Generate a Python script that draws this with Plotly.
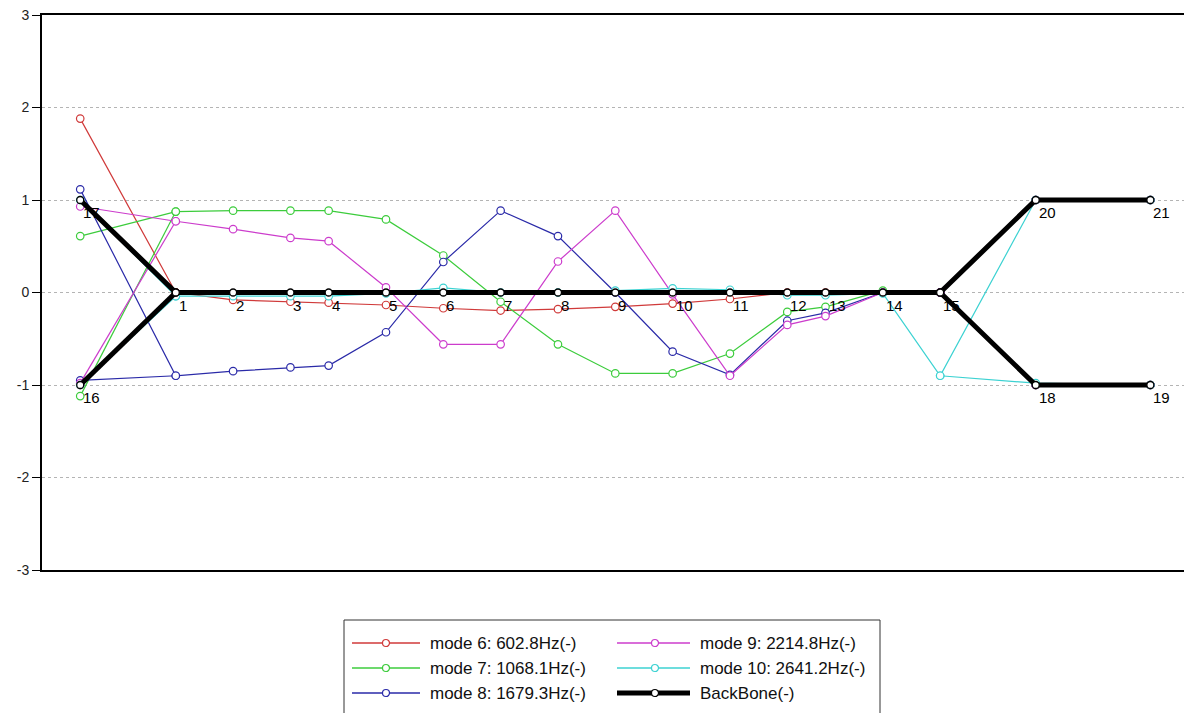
import plotly.graph_objects as go

# ---- model geometry -------------------------------------------------------
node_ids = [17, 16, 1, 2, 3, 4, 5, 6, 7, 8, 9, 10, 11, 12, 13, 14, 15, 18, 19, 20, 21]
node_x = [0, 0, 2.5, 4, 5.5, 6.5, 8, 9.5, 11, 12.5, 14, 15.5, 17, 18.5, 19.5, 21, 22.5,
          25, 28, 25, 28]
backbone_y = [1, -1, 0, 0, 0, 0, 0, 0, 0, 0, 0, 0, 0, 0, 0, 0, 0, -1, -1, 1, 1]

# element chains (by node id)
chains = [
    [17, 1, 2, 3, 4, 5, 6, 7, 8, 9, 10, 11, 12, 13, 14, 15, 20, 21],
    [16, 1],
    [15, 18, 19],
]

# ---- mode shapes (value per node, same order as node_ids) ----------------
mode6 = [1.88, -1.0, 0.0, -0.08, -0.10, -0.11, -0.135, -0.17, -0.195, -0.18, -0.155,
         -0.12, -0.07, 0.0, 0.0, 0.0, 0.0, -1.0, -1.0, 1.0, 1.0]
mode7 = [0.61, -1.12, 0.875, 0.885, 0.885, 0.885, 0.79, 0.40, -0.10, -0.56, -0.875,
         -0.875, -0.66, -0.21, -0.155, 0.02, 0.0, -1.0, -1.0, 1.0, 1.0]
mode8 = [1.115, -0.95, -0.90, -0.85, -0.81, -0.79, -0.43, 0.33, 0.885, 0.61, 0.0,
         -0.64, -0.89, -0.305, -0.22, 0.0, 0.0, -1.0, -1.0, 1.0, 1.0]
mode9 = [0.93, -0.98, 0.77, 0.685, 0.59, 0.555, 0.055, -0.56, -0.56, 0.335, 0.885,
         -0.02, -0.90, -0.35, -0.255, 0.0, 0.0, -1.0, -1.0, 1.0, 1.0]
mode10 = [1.0, -1.0, -0.04, -0.04, -0.04, -0.04, -0.01, 0.05, 0.0, 0.0, 0.02,
          0.045, 0.03, -0.03, -0.03, -0.01, -0.9, -0.98, -1.0, 1.0, 1.0]

mode_values = [mode6, mode7, mode8, mode9, mode10]
mode_names = ["mode 6: 602.8Hz(-)", "mode 7: 1068.1Hz(-)", "mode 8: 1679.3Hz(-)",
              "mode 9: 2214.8Hz(-)", "mode 10: 2641.2Hz(-)"]
mode_colors = ["#d03a3a", "#3ccc3c", "#2a2aa8", "#cc3ccc", "#3cd2d2"]
backbone_name = "BackBone(-)"

y_ticks = [-3, -2, -1, 0, 1, 2, 3]

FONT = "Liberation Sans, Arial, sans-serif"
W, H = 1186, 713
M_L, M_R, M_T, M_B = 42, 2, 15, 143


def chain_path(values):
    xs, ys = [], []
    for k, ch in enumerate(chains):
        if k:
            xs.append(None)
            ys.append(None)
        for nid in ch:
            i = node_ids.index(nid)
            xs.append(node_x[i])
            ys.append(values[i])
    return xs, ys


fig = go.Figure()

for vals, name, col in zip(mode_values, mode_names, mode_colors):
    xs, ys = chain_path(vals)
    fig.add_trace(go.Scatter(
        x=xs, y=ys, mode="lines+markers", name=name, showlegend=False,
        line=dict(color=col, width=1.2),
        marker=dict(symbol="circle", size=7.5, color="white",
                    line=dict(color=col, width=1.2)),
        connectgaps=False,
    ))

xs, ys = chain_path(backbone_y)
fig.add_trace(go.Scatter(
    x=xs, y=ys, mode="lines+markers", name=backbone_name, showlegend=False,
    line=dict(color="black", width=5),
    marker=dict(symbol="circle", size=7, color="white",
                line=dict(color="black", width=1.3)),
    connectgaps=False,
))

# node numbers next to each backbone node
annotations = []
for nid, x, y in zip(node_ids, node_x, backbone_y):
    annotations.append(dict(
        x=x, y=y, xref="x", yref="y", text=str(nid), showarrow=False,
        xanchor="left", yanchor="top", xshift=1, yshift=-2,
        font=dict(family=FONT, size=15, color="black"),
    ))

# ---- legend box below the plot (pixel layout converted to paper units) ----
plot_w = W - M_L - M_R
plot_h = H - M_T - M_B


def px(xp):
    return (xp - M_L) / plot_w


def py(yp):
    return (H - M_B - yp) / plot_h


shapes = [dict(type="rect", xref="paper", yref="paper",
               x0=px(344), x1=px(880), y0=py(722), y1=py(620),
               line=dict(color="#333333", width=1), fillcolor="white", layer="above")]

legend_items = list(zip(mode_names, mode_colors)) + [(backbone_name, "black")]
col_geom = [(352, 420, 386, 428), (617, 690, 655, 698)]
row_y = [643, 668, 693]
for k, (name, col) in enumerate(legend_items):
    c, r = divmod(k, 3)
    x0, x1, xc, xt = col_geom[c]
    yy = row_y[r]
    is_bb = col == "black"
    shapes.append(dict(type="line", xref="paper", yref="paper",
                       x0=px(x0), x1=px(x1), y0=py(yy), y1=py(yy),
                       line=dict(color=col, width=5 if is_bb else 1.3), layer="above"))
    shapes.append(dict(type="circle", xref="paper", yref="paper",
                       x0=px(xc - 3.5), x1=px(xc + 3.5), y0=py(yy + 3.5), y1=py(yy - 3.5),
                       line=dict(color=col, width=1.2), fillcolor="white", layer="above"))
    annotations.append(dict(
        x=px(xt), y=py(yy), xref="paper", yref="paper", text=name, showarrow=False,
        xanchor="left", yanchor="middle",
        font=dict(family=FONT, size=17, color="#111111"),
    ))

fig.update_layout(
    width=W, height=H,
    margin=dict(l=M_L, r=M_R, t=M_T, b=M_B),
    paper_bgcolor="white", plot_bgcolor="white",
    showlegend=False,
    font=dict(family=FONT, size=14, color="#222222"),
    xaxis=dict(range=[-1, 28.88], showgrid=False, zeroline=False,
               showticklabels=False, ticks="", showline=True,
               linecolor="black", linewidth=2, mirror=True),
    yaxis=dict(range=[-3, 3], tickmode="array", tickvals=y_ticks,
               ticktext=[str(v) for v in y_ticks],
               ticks="outside", ticklen=8, tickcolor="black", tickwidth=1,
               showline=True, linecolor="black", linewidth=2,
               showgrid=True, gridcolor="#b4b4b4", griddash="dot", gridwidth=1,
               zeroline=False, tickfont=dict(family=FONT, size=14, color="#222222")),
    shapes=shapes,
    annotations=annotations,
)

fig.write_html("out.html")
